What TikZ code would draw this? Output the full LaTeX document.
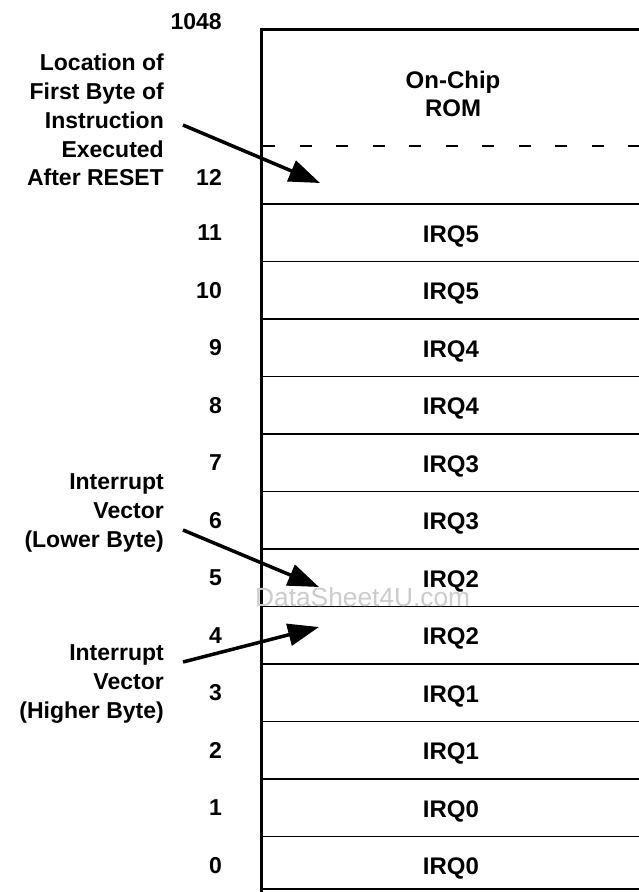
\documentclass[tikz,border=0pt]{standalone}
\usepackage{fontspec}
\setmainfont{Liberation Sans}
\usetikzlibrary{arrows.meta}
\begin{document}
\begin{tikzpicture}[x=1pt,y=-1pt,
  txt/.style={font=\fontsize{23}{28.8}\selectfont\bfseries, inner sep=0pt},
  num/.style={txt, anchor=east},
  lbl/.style={txt, anchor=east, align=right},
  cell/.style={txt, font=\fontsize{24}{28.8}\selectfont\bfseries},
  rowline/.style={line width=1.3pt},
  ptr/.style={line width=3.5pt, -{Triangle[length=31pt,width=22pt]}}]
\useasboundingbox (0,0) rectangle (639,892);
\fill[white] (0,0) rectangle (639,892);
% memory box
\draw[line width=3pt] (639,29) -- (261,29) -- (261,892);
\draw[rowline] (261,889) -- (639,889);
\draw[line width=1.3pt, dash pattern=on 12pt off 24.5pt] (263,146) -- (639,146);
\foreach \k in {0,...,11} \draw[rowline] (261,{204+57.5*\k}) -- (639,{204+57.5*\k});
% watermark
\node[inner sep=0pt, anchor=base west, text=black!20, font=\fontsize{26.3}{26.3}\selectfont] (wm) at (255,606) {DataSheet4U.com};
% top region
\node[cell, align=center] (rom) at (453,94) {On-Chip\\ROM};
\node[num] (n1048) at (222,22) {1048};
\node[num] (n12) at (222,177) {12};
% numbered rows
\foreach \n/\t in {11/IRQ5,10/IRQ5,9/IRQ4,8/IRQ4,7/IRQ3,6/IRQ3,5/IRQ2,4/IRQ2,3/IRQ1,2/IRQ1,1/IRQ0,0/IRQ0}{
  \node[num] (n\n) at (222,{232.75+57.5*(11-\n)}) {\n};
  \node[cell] (c\n) at (451,{236+57.5*(11-\n)}) {\t};
}
% labels
\node[lbl] (reset) at (164,120) {Location of\\First Byte of\\Instruction\\Executed\\After RESET};
\node[lbl] (lower) at (164,513) {Interrupt\\Vector\\(Lower Byte)};
\node[lbl] (higher) at (164,684) {Interrupt\\Vector\\(Higher Byte)};
% arrows
\coordinate (t1) at (183,125);
\coordinate (h1) at (320,183);
\coordinate (t2) at (183,530);
\coordinate (h2) at (319,587);
\coordinate (t3) at (183,662);
\coordinate (h3) at (319,627);
\draw[ptr] (t1) -- (h1);
\draw[ptr] (t2) -- (h2);
\draw[ptr] (t3) -- (h3);
\end{tikzpicture}
\end{document}
